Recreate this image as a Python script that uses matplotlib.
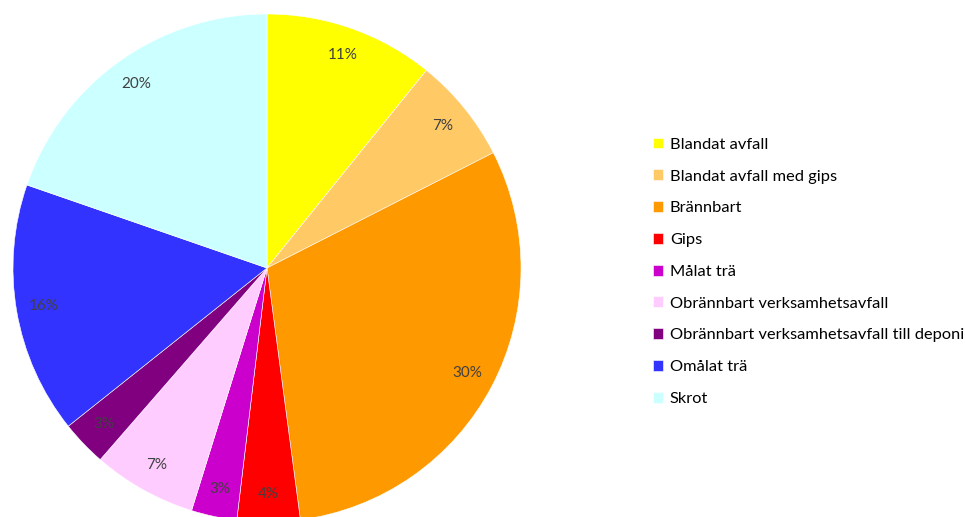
import matplotlib.pyplot as plt

labels = ['Blandat avfall', 'Blandat avfall med gips', 'Brännbart', 'Gips', 'Målat trä',
          'Obrännbart verksamhetsavfall', 'Obrännbart verksamhetsavfall till deponi',
          'Omålat trä', 'Skrot']
shares = [10.8, 6.7, 30.4, 4.0, 2.9, 6.6, 2.9, 16.0, 19.7]
colors = ['#FFFF00', '#FFC966', '#FF9900', '#FF0000', '#CC00CC',
          '#FFCCFF', '#800080', '#3333FF', '#CCFFFF']

plt.rcParams['font.family'] = ['Lato', 'DejaVu Sans']

fig = plt.figure(figsize=(9.65, 5.17), dpi=100)
ax = fig.add_axes([13 / 965, (517 - 268 - 254) / 517, 508 / 965, 508 / 517])

wedges, texts, autotexts = ax.pie(shares, colors=colors, startangle=90, counterclock=False,
                                  autopct='%.0f%%', pctdistance=0.89,
                                  wedgeprops=dict(edgecolor='white', linewidth=0.4),
                                  textprops=dict(color='#404040', fontsize=11))
ax.set_xlim(-1, 1)
ax.set_ylim(-1, 1)
ax.set_aspect('equal')

fig.legend(wedges, labels, loc='upper left', bbox_to_anchor=(646 / 965, 1 - 131 / 517),
           frameon=False, fontsize=11.8, handlelength=0.65, handleheight=0.65,
           handletextpad=0.4, labelspacing=1.07, borderaxespad=0)

fig.savefig('out.png', dpi=100)
